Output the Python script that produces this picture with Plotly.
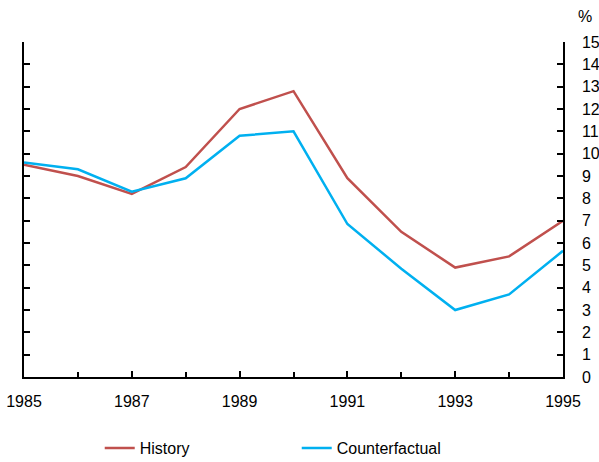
import plotly.graph_objects as go

years = [1985, 1986, 1987, 1988, 1989, 1990, 1991, 1992, 1993, 1994, 1995]
history = [9.5, 9.0, 8.2, 9.4, 12.0, 12.8, 8.9, 6.5, 4.9, 5.4, 7.0]
counterfactual = [9.6, 9.3, 8.3, 8.9, 10.8, 11.0, 6.85, 4.85, 3.0, 3.7, 5.65]
y_ticks = list(range(0, 16))

FONT = "Liberation Sans, Arial, sans-serif"

fig = go.Figure()
fig.add_trace(go.Scatter(x=years, y=history, mode="lines", name="History",
                         line=dict(color="#C0504D", width=2.5)))
fig.add_trace(go.Scatter(x=years, y=counterfactual, mode="lines", name="Counterfactual",
                         line=dict(color="#00B0F0", width=2.5)))

fig.update_layout(
    width=599, height=462,
    margin=dict(l=24, r=36, t=42, b=85, autoexpand=False),
    paper_bgcolor="white", plot_bgcolor="white",
    font=dict(family=FONT, size=16, color="black"),
    showlegend=True,
    legend=dict(orientation="h", x=0.506, xanchor="center", y=-0.212, yanchor="middle",
                entrywidth=152, font=dict(size=16)),
    xaxis=dict(range=[1985, 1995], tickmode="array", tickvals=[1985, 1987, 1989, 1991, 1993, 1995],
               ticks="inside", ticklen=6, tickwidth=1.5, tickcolor="black", automargin=False,
               ticklabelstandoff=9, ticklabeloverflow="allow",
               showline=True, linecolor="black", linewidth=1.5, showgrid=False, zeroline=False,
               minor=dict(dtick=1, tick0=1985, ticks="inside", ticklen=5, tickwidth=1.5, tickcolor="black", showgrid=False)),
    yaxis=dict(range=[0, 15], side="right", tickvals=y_ticks, ticks="inside", ticklen=6, tickwidth=1.5,
               tickcolor="black", showline=True, linecolor="black", linewidth=1.5, mirror="ticks",
               automargin=False, ticklabelstandoff=14, ticklabeloverflow="allow",
               showgrid=False, zeroline=False),
)
fig.add_annotation(text="%", xref="paper", yref="paper", x=1.0, y=1.0, xshift=22, yshift=26,
                   showarrow=False, font=dict(size=16), xanchor="center", yanchor="middle")

fig.write_html("out.html", config={"displayModeBar": False},
               post_script="document.body.style.margin='0px';document.body.style.overflow='hidden';")
